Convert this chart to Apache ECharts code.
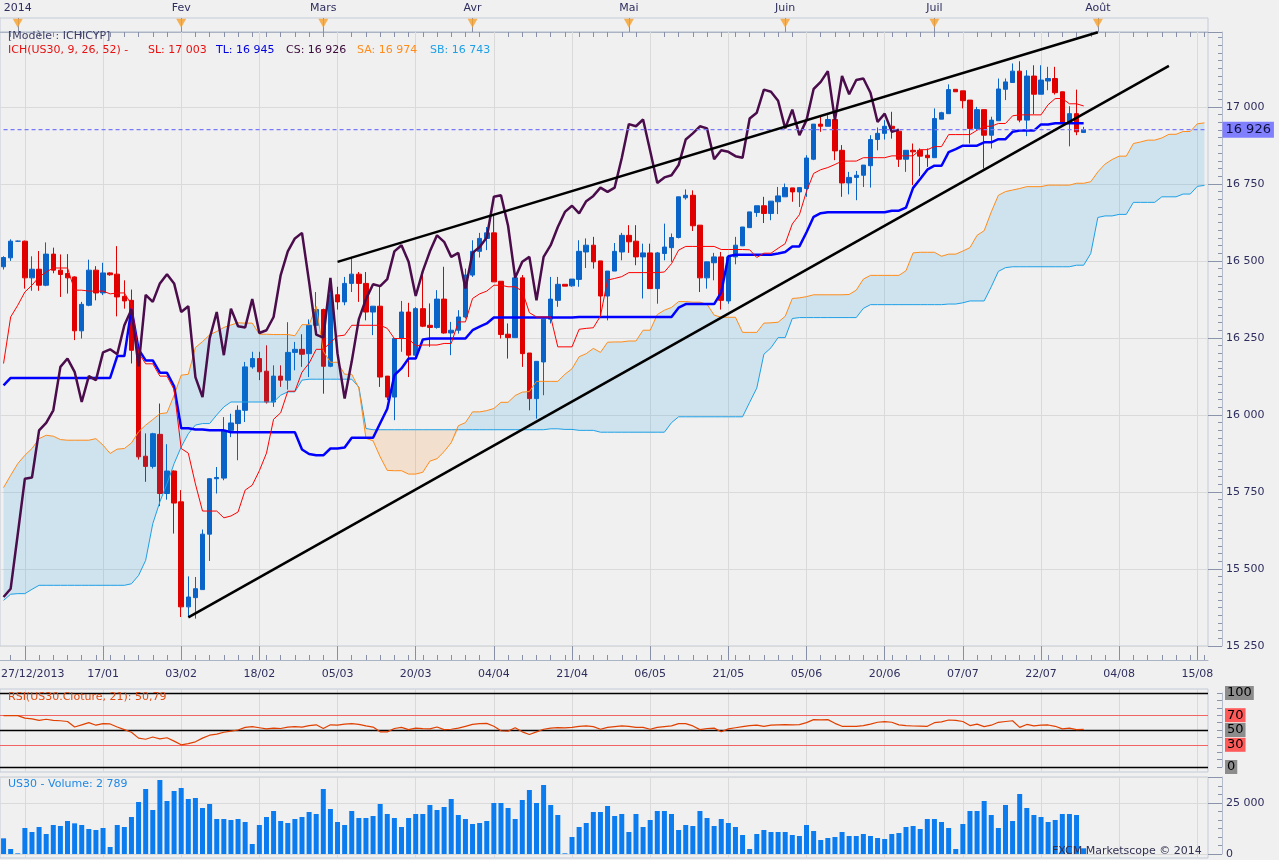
<!DOCTYPE html>
<html><head><meta charset="utf-8">
<script src="https://cdn.jsdelivr.net/npm/echarts@6/dist/echarts.min.js"></script>
<style>html,body{margin:0;padding:0;background:#f0f0f0;}#c{width:1279px;height:860px;}</style>
</head><body><div id="c"></div><script>
// ---------- categories (trading days, then calendar days ahead for the cloud) ----------
const monthDays = [
 ['12/2013',[30,31]],
 ['01/2014',[1,2,3,6,7,8,9,10,13,14,15,16,17,20,21,22,23,24,27,28,29,30,31]],
 ['02/2014',[3,4,5,6,7,10,11,12,13,14,17,18,19,20,21,24,25,26,27,28]],
 ['03/2014',[3,4,5,6,7,10,11,12,13,14,17,18,19,20,21,24,25,26,27,28,31]],
 ['04/2014',[1,2,3,4,7,8,9,10,11,14,15,16,17,18,21,22,23,24,25,28,29,30]],
 ['05/2014',[1,2,5,6,7,8,9,12,13,14,15,16,19,20,21,22,23,26,27,28,29,30]],
 ['06/2014',[2,3,4,5,6,9,10,11,12,13,16,17,18,19,20,23,24,25,26,27,30]],
 ['07/2014',[1,2,3,4,7,8,9,10,11,14,15,16,17,18,21,22,23,24,25,28,29,30,31]],
 ['08/2014',[1,2,3,4,5,6,7,8,9,10,11,12,13,14,15,16]]
];
const categories = [];
monthDays.forEach(([m, ds]) => ds.forEach(d => categories.push((d < 10 ? '0' + d : '' + d) + '/' + m)));

// ---------- tick labels ----------
const monthTickIdx = [2,25,45,66,88,110,131,154];
const monthTickLabels = ['2014','Fev','Mars','Avr','Mai','Juin','Juil','Août'];
const dateTickIdx = [3,14,25,36,47,58,69,80,91,102,113,124,135,146,157,168];
const dateTickLabels = ['27/12/2013','17/01','03/02','18/02','05/03','20/03','04/04','21/04','06/05','21/05','05/06','20/06','07/07','22/07','04/08','15/08'];

// ---------- US30 daily OHLC ----------
const opens = [
16481,16510,16564,16564,16445,16473,16421,16522,16470,16459,
16448,16273,16356,16470,16396,16461,16457,16385,16372,16210,
15866,15833,15937,15745,15818,15718,15377,15407,15433,15613,
15793,15795,15950,15972,16015,16156,16183,16142,16042,16126,
16113,16203,16213,16199,16291,16342,16158,16390,16367,16427,
16457,16427,16334,16353,16126,16058,16248,16334,16194,16345,
16291,16284,16376,16266,16275,16318,16454,16531,16573,16591,
16434,16262,16251,16445,16201,16053,16172,16311,16372,16424,
16419,16440,16529,16551,16500,16386,16467,16529,16583,16564,
16513,16526,16410,16524,16543,16576,16705,16713,16616,16445,
16494,16513,16370,16513,16549,16608,16657,16679,16654,16692,
16708,16737,16724,16735,16830,16944,16937,16959,16859,16753,
16771,16778,16809,16894,16914,16937,16921,16830,16859,16859,
16843,16835,16960,16978,17057,17052,17022,16930,16991,16908,
16955,17057,17079,17116,16957,17100,17041,17084,17092,17049,
16951,16978,16917];
const highs = [
16515,16570,16566,16566,16515,16532,16560,16543,16521,16522,
16450,16367,16504,16483,16494,16463,16548,16437,16407,16212,
15940,15942,16037,15905,15820,15756,15476,15474,15628,15795,
15831,15993,16004,16031,16172,16205,16205,16226,16161,16161,
16301,16237,16262,16310,16399,16345,16443,16416,16448,16513,
16464,16464,16353,16416,16126,16248,16370,16364,16350,16470,
16362,16405,16481,16302,16340,16475,16567,16591,16610,16648,
16434,16297,16445,16454,16201,16174,16311,16448,16448,16424,
16441,16567,16573,16578,16500,16467,16558,16591,16616,16616,
16556,16556,16529,16621,16589,16708,16732,16729,16616,16497,
16526,16529,16513,16578,16610,16659,16679,16708,16694,16740,
16751,16737,16738,16843,16944,16968,16973,16959,16876,16789,
16792,16811,16908,16933,16957,16984,16921,16859,16881,16865,
16865,16995,16984,17073,17057,17052,17022,17000,16991,16968,
17092,17092,17141,17148,17119,17135,17135,17130,17130,17049,
17002,17056,16935];
const lows = [
16472,16500,16562,16410,16403,16403,16418,16460,16383,16394,
16243,16248,16353,16372,16389,16452,16320,16345,16167,15855,
15783,15826,15704,15725,15615,15344,15346,15339,15433,15526,
15745,15788,15928,15853,15977,16150,16113,16037,16026,16091,
16082,16145,16156,16123,16264,16069,16155,16342,16356,16399,
16367,16307,16259,16091,16048,15983,16205,16123,16188,16285,
16221,16280,16264,16194,16264,16313,16448,16511,16535,16432,
16248,16183,16251,16156,16015,15988,16064,16297,16351,16418,
16416,16416,16477,16475,16324,16307,16467,16502,16526,16486,
16378,16410,16361,16502,16497,16573,16699,16597,16399,16410,
16437,16342,16361,16489,16548,16608,16643,16623,16632,16652,
16708,16692,16675,16708,16827,16919,16937,16827,16708,16716,
16697,16740,16738,16859,16894,16897,16805,16789,16746,16775,
16805,16835,16960,16978,17049,16995,16881,16924,16800,16865,
16955,17022,17079,16950,16905,16976,17041,17054,17040,16944,
16872,16908,16915];
const closes = [
16511,16564,16564,16445,16473,16421,16522,16470,16456,16445,
16273,16359,16470,16396,16461,16455,16383,16370,16210,15864,
15833,15939,15745,15818,15714,15377,15409,15436,15613,15793,
15797,15950,15974,16015,16156,16183,16140,16042,16126,16113,
16203,16213,16197,16291,16342,16158,16390,16367,16427,16457,
16427,16334,16353,16123,16058,16248,16334,16194,16345,16288,
16284,16376,16266,16275,16318,16454,16531,16573,16591,16432,
16261,16251,16445,16199,16053,16174,16311,16376,16424,16418,
16441,16531,16551,16497,16386,16467,16531,16583,16562,16513,
16526,16410,16526,16545,16576,16708,16713,16614,16445,16497,
16513,16372,16513,16551,16610,16659,16679,16654,16694,16711,
16738,16724,16738,16834,16944,16937,16959,16857,16753,16771,
16778,16811,16894,16914,16937,16930,16830,16859,16854,16840,
16835,16962,16981,17056,17049,17020,16930,16991,16908,16957,
17058,17081,17116,16957,17100,17041,17087,17092,17046,16951,
16978,16919,16926];

// ---------- Ichimoku lines ----------
const tenkan = [
16167,16318,16356,16399,16421,16448,16464,16477,16477,16477,
16405,16405,16402,16402,16402,16393,16396,16396,16358,16202,
16166,16166,16126,16126,16082,15891,15876,15776,15688,15688,
15688,15666,15672,15685,15756,15772,15819,15876,15986,16007,
16077,16077,16139,16168,16213,16213,16235,16256,16259,16291,
16291,16291,16291,16291,16281,16248,16248,16248,16224,16227,
16227,16227,16232,16232,16302,16302,16378,16393,16402,16421,
16421,16416,16416,16402,16332,16318,16318,16318,16221,16221,
16221,16278,16281,16283,16321,16438,16443,16449,16462,16462,
16462,16462,16462,16464,16491,16535,16547,16547,16547,16547,
16547,16537,16537,16537,16537,16536,16511,16525,16525,16541,
16556,16620,16650,16726,16784,16796,16803,16813,16824,16824,
16824,16835,16835,16835,16835,16841,16841,16841,16841,16861,
16861,16871,16871,16910,16910,16910,16910,16924,16937,16937,
16946,16946,16971,16974,16974,16974,16974,17007,17027,17027,
17010,17010,17003];
const kijun = [
16096,16120,16120,16120,16120,16120,16120,16120,16120,16120,
16120,16120,16120,16120,16120,16120,16191,16191,16345,16213,
16177,16177,16137,16137,16093,15957,15957,15953,15953,15950,
15950,15950,15944,15944,15944,15944,15944,15944,15944,15944,
15944,15944,15888,15873,15869,15869,15891,15891,15894,15926,
15926,15926,15926,15973,16020,16129,16151,16183,16183,16245,
16248,16248,16248,16248,16248,16248,16275,16287,16297,16316,
16316,16316,16316,16316,16316,16316,16316,16316,16316,16316,
16316,16318,16318,16318,16318,16318,16318,16318,16318,16318,
16318,16318,16318,16318,16318,16348,16360,16360,16360,16360,
16360,16398,16515,16520,16520,16520,16520,16520,16520,16524,
16529,16547,16547,16593,16643,16655,16658,16658,16658,16658,
16658,16658,16658,16658,16658,16663,16663,16673,16737,16766,
16796,16809,16809,16853,16863,16874,16874,16874,16885,16885,
16895,16895,16919,16923,16923,16923,16943,16943,16947,16947,
16947,16947,16947];
const senkouA = [
15764,15804,15842,15869,15891,15923,15934,15931,15920,15918,
15918,15918,15918,15923,15902,15875,15889,15891,15909,15945,
15967,15985,16004,16007,16064,16129,16132,16219,16238,16260,
16271,16284,16292,16299,16298,16298,16262,16262,16261,16261,
16261,16257,16293,16293,16352,16207,16171,16171,16132,16132,
16087,15924,15916,15864,15820,15819,15819,15808,15808,15814,
15850,15858,15881,15910,15965,15975,16010,16010,16014,16021,
16041,16041,16063,16074,16076,16109,16109,16109,16109,16132,
16150,16189,16199,16216,16203,16236,16237,16237,16240,16240,
16275,16275,16326,16340,16349,16368,16368,16366,16366,16359,
16324,16317,16317,16317,16268,16268,16268,16298,16299,16301,
16320,16378,16380,16384,16390,16390,16390,16390,16390,16391,
16405,16441,16453,16453,16453,16453,16453,16468,16526,16528,
16528,16528,16515,16522,16522,16532,16543,16583,16598,16659,
16713,16725,16730,16735,16741,16741,16741,16746,16746,16746,
16746,16752,16752,16757,16789,16814,16829,16840,16840,16881,
16886,16892,16892,16899,16911,16911,16920,16920,16945,16948];
const senkouB = [
15398,15418,15420,15420,15434,15447,15447,15447,15447,15447,
15447,15447,15447,15447,15447,15447,15447,15447,15452,15479,
15528,15647,15718,15777,15842,15896,15939,15967,15972,15972,
16000,16026,16042,16042,16042,16042,16042,16042,16042,16064,
16075,16075,16113,16116,16116,16116,16116,16116,16116,16116,
16091,15956,15952,15952,15952,15952,15952,15952,15952,15952,
15952,15952,15952,15952,15952,15952,15952,15952,15952,15952,
15952,15952,15952,15952,15952,15952,15952,15955,15955,15953,
15953,15950,15950,15950,15944,15944,15944,15944,15944,15944,
15944,15944,15944,15944,15975,15994,15994,15994,15994,15994,
15994,15994,15994,15994,15994,16041,16087,16197,16218,16251,
16251,16313,16316,16316,16316,16316,16316,16316,16316,16316,
16316,16346,16358,16358,16358,16358,16358,16358,16358,16358,
16358,16358,16358,16360,16360,16364,16370,16370,16370,16416,
16466,16478,16481,16481,16481,16481,16481,16481,16481,16481,
16481,16486,16486,16524,16641,16646,16646,16651,16651,16690,
16690,16690,16690,16708,16708,16708,16717,16717,16742,16745];
const chikouShift = 26; // Chikou span = close plotted 26 bars back

// ---------- trend lines [category index, price] ----------
const trendUpper = [[47,16497],[154,17242]];
const trendLower = [[26,15343],[164,17133]];
const lastPrice = 16926;

// ---------- RSI(21) ----------
const rsi = [
69.4,69.4,69.5,66,65,63,64.5,63,62.5,61.5,
54,57,60,56.5,58.5,58.2,54,50.5,47,39,
37.5,40.5,38,39.5,35,30,31.5,34,39,43,
44.5,47,48.5,50,53.5,54.5,53,51.5,52.5,52,
54,54.5,54,56,57,52,57,56.5,58,58.5,
57.7,55.5,54,47.5,47.5,52,53.5,50.5,52.5,51.8,
51.5,54,50.5,51,52.5,55,57.5,58.5,59,55,
49,48.5,53,47.5,44,47.5,51,52.5,53.2,53,
53.5,55,55.5,54.5,51,53.5,54.5,55.5,55,53.5,
53.5,51,53.5,54.5,55.5,58.6,58.6,55.5,50.5,52,
52.5,47.7,51.5,53,54.5,55.9,56.5,55,56.5,57,
57.2,56.8,57.2,60,64,63.8,64,59,55,55,
55,56,58,60.5,61.3,60.5,57,56,55.4,55.2,
55,59.9,61,63.5,63,61.5,56,58,54.5,56.5,
60.4,61.5,62.5,53.6,57.5,55.5,56.5,56.8,55,51.5,
52.5,50.5,50.79];
const rsiLevels = [100,70,50,30,0];

// ---------- Volume ----------
const volume = [
7680,2450,330,12750,10780,13240,9800,14220,13730,16180,
15030,14220,12250,11760,12750,3430,14220,13240,18140,25490,
31860,21570,36280,25980,30880,32350,26960,27450,22550,24510,
17160,17160,16670,17160,15690,4900,14220,18140,21080,16180,
15200,17160,18140,20590,19610,31860,22060,15690,14220,21080,
17650,17650,18630,24510,19610,17650,13240,17650,19610,19610,
24020,21570,23040,26960,19120,17160,14710,15200,16180,25000,
25000,22550,17160,26470,31370,25000,33820,24020,19120,330,
8330,13240,15200,20590,20590,23530,18630,19610,10780,19610,
13240,16670,21080,21080,19610,11760,14220,13730,21080,17650,
13730,17160,15200,13240,9310,2450,9800,11760,10780,10780,
10780,9310,8820,14220,11270,6860,7840,8330,10780,8820,
8820,9800,8820,7840,7350,9800,10290,13240,13730,12250,
17160,17160,15690,12750,2450,14710,21080,21080,25980,19120,
12750,24020,16180,29410,22550,19120,18140,15690,16670,19610,
19610,19120,2789];

// ================= build =================
const N = categories.length;
const W = 1208;
const FONT = 'DejaVu Sans';
const AXC = '#2e2e5e';
const UP = '#0a64c8', DN = '#e00000';
const sp = v => String(Math.round(v)).replace(/\B(?=(\d{3})+(?!\d))/g, ' ');
const nulls = categories.map(() => null);
const candle = opens.map((o, i) => [o, closes[i], lows[i], highs[i]]);
const chikou = closes.slice(chikouShift);
const cloudBase = senkouA.map((a, i) => Math.min(a, senkouB[i]));
const cloudUp = senkouA.map((a, i) => a >= senkouB[i] ? a - senkouB[i] : 0);
const cloudDn = senkouA.map((a, i) => senkouB[i] > a ? senkouB[i] - a : 0);
const priceLine = categories.map(() => lastPrice);
function trendData(seg){ const a = categories.map(() => null); a[seg[0][0]] = seg[0][1]; a[seg[1][0]] = seg[1][1]; return a; }
function vlines(idx, color){
  return {silent:true, symbol:'none', z:1, label:{show:false}, emphasis:{disabled:true},
    lineStyle:{color:color, type:'solid', width:1}, data: idx.map(i => ({xAxis:i}))};
}
function hidX(g){ return {type:'category', gridIndex:g, data:categories, axisLine:{show:false}, axisTick:{show:false}, axisLabel:{show:false}, splitLine:{show:false}}; }
function hidY(g){ return {type:'value', gridIndex:g, min:0, max:1, show:false}; }
const gridBase = {left:0, width:W, outerBoundsMode:'none', containLabel:false};
const BORDER = '#c3cbd8';

const option = {
  animation:false,
  backgroundColor:'#f0f0f0',
  textStyle:{fontFamily:FONT},
  title:[
    {text:'[Modèle : ICHICYP]', left:8, top:31, padding:0, textStyle:{fontSize:11, fontWeight:'normal', color:'#3c3c64', fontFamily:FONT}},
    {text:'ICH(US30, 9, 26, 52) -', left:8, top:45, padding:0, textStyle:{fontSize:11, fontWeight:'normal', color:'#e81010', fontFamily:FONT}},
    {text:'SL: 17 003', left:148, top:45, padding:0, textStyle:{fontSize:11, fontWeight:'normal', color:'#e81010', fontFamily:FONT}},
    {text:'TL: 16 945', left:216, top:45, padding:0, textStyle:{fontSize:11, fontWeight:'normal', color:'#0000e0', fontFamily:FONT}},
    {text:'CS: 16 926', left:286, top:45, padding:0, textStyle:{fontSize:11, fontWeight:'normal', color:'#3a0a3a', fontFamily:FONT}},
    {text:'SA: 16 974', left:357, top:45, padding:0, textStyle:{fontSize:11, fontWeight:'normal', color:'#ff8c1a', fontFamily:FONT}},
    {text:'SB: 16 743', left:430, top:45, padding:0, textStyle:{fontSize:11, fontWeight:'normal', color:'#1ea0e6', fontFamily:FONT}},
    {text:'27/12/2013', left:1, top:669, padding:0, textStyle:{fontSize:11, fontWeight:'normal', color:AXC, fontFamily:FONT}},
    {text:'RSI(US30.Cloture, 21): 50,79', left:8, top:692, padding:0, textStyle:{fontSize:11, fontWeight:'normal', color:'#e04a10', fontFamily:FONT}},
    {text:'US30 - Volume: 2 789', left:8, top:779, padding:0, textStyle:{fontSize:11, fontWeight:'normal', color:'#1e88e5', fontFamily:FONT}},
    {text:'FXCM Marketscope © 2014', left:1052, top:846, padding:0, textStyle:{fontSize:11, fontWeight:'normal', color:'#303050', fontFamily:FONT}}
  ],
  grid:[
    Object.assign({}, gridBase, {top:18, height:14, show:true, borderColor:BORDER, borderWidth:1}),
    Object.assign({}, gridBase, {top:32, height:614, show:true, borderColor:BORDER, borderWidth:1}),
    Object.assign({}, gridBase, {top:646, height:14}),
    Object.assign({}, gridBase, {top:689, height:83, show:true, borderColor:BORDER, borderWidth:1}),
    Object.assign({}, gridBase, {top:693, height:74}),
    Object.assign({}, gridBase, {top:777, height:81, show:true, borderColor:BORDER, borderWidth:1}),
    Object.assign({}, gridBase, {top:777, height:77})
  ],
  xAxis:[
    {type:'category', gridIndex:0, data:categories, position:'top',
      axisLine:{show:true, lineStyle:{color:'#aab4c4'}},
      axisTick:{show:true, inside:true, length:5, alignWithLabel:true, interval:(i)=>i%2===1, lineStyle:{color:'#8890a8'}},
      axisLabel:{show:true, interval:(i)=>monthTickIdx.indexOf(i)>=0, formatter:(v,i)=>monthTickLabels[monthTickIdx.indexOf(i)], color:AXC, fontSize:11, margin:4, fontFamily:FONT},
      splitLine:{show:false}},
    hidX(1),
    {type:'category', gridIndex:2, data:categories, position:'bottom',
      axisLine:{show:true, lineStyle:{color:'#aab4c4'}},
      axisTick:{show:true, inside:true, length:5, alignWithLabel:true, interval:(i)=>i%2===1, lineStyle:{color:'#8890a8'}},
      axisLabel:{show:true, interval:(i)=>dateTickIdx.indexOf(i)>0, formatter:(v,i)=>dateTickLabels[dateTickIdx.indexOf(i)], color:AXC, fontSize:11, margin:9, fontFamily:FONT},
      splitLine:{show:false}},
    hidX(3), hidX(4), hidX(5), hidX(6)
  ],
  yAxis:[
    hidY(0),
    {type:'value', gridIndex:1, position:'right', offset:14, min:15250, max:17243, interval:250,
      axisLine:{show:true, lineStyle:{color:'#b4bccc'}},
      axisTick:{show:true, inside:true, length:14, lineStyle:{color:'#8a94aa'}},
      minorTick:{show:true, splitNumber:10, length:4, lineStyle:{color:'#8a94aa'}},
      axisLabel:{color:AXC, fontSize:11, margin:4, formatter:sp, showMaxLabel:false, fontFamily:FONT},
      splitLine:{show:true, lineStyle:{color:'#dadada', width:1}}},
    hidY(2), hidY(3),
    {type:'value', gridIndex:4, position:'right', offset:14, min:0, max:100, interval:10,
      axisLine:{show:true, lineStyle:{color:'#b4bccc'}},
      axisTick:{show:true, inside:true, length:5, lineStyle:{color:'#8a94aa'}},
      axisLabel:{show:false}, splitLine:{show:false}},
    hidY(5),
    {type:'value', gridIndex:6, position:'right', offset:14, min:0, max:37745, interval:25000,
      axisLine:{show:true, lineStyle:{color:'#b4bccc'}},
      axisTick:{show:true, inside:true, length:14, lineStyle:{color:'#8a94aa'}},
      minorTick:{show:true, splitNumber:6, length:4, lineStyle:{color:'#8a94aa'}},
      axisLabel:{color:AXC, fontSize:11, margin:4, formatter:sp, showMaxLabel:false, fontFamily:FONT},
      splitLine:{show:true, lineStyle:{color:'#dadada'}}}
  ],
  series:[
    // top strip: month markers
    {type:'line', xAxisIndex:0, yAxisIndex:0, data:nulls, silent:true, markLine:vlines(monthTickIdx, '#8890a8')},
    {type:'scatter', xAxisIndex:0, yAxisIndex:0, silent:true, z:5, symbol:'triangle', symbolRotate:180, symbolSize:[10,9],
      itemStyle:{color:'#f7a02a'}, data: monthTickIdx.map(i => [i, 0.62])},
    // main panel vertical grid
    {type:'line', xAxisIndex:1, yAxisIndex:1, data:nulls, silent:true, markLine:vlines(dateTickIdx, '#dadada')},
    // candles
    {type:'candlestick', xAxisIndex:1, yAxisIndex:1, data:candle, barWidth:5, z:2, silent:true,
      itemStyle:{color:UP, color0:DN, borderColor:UP, borderColor0:DN, borderWidth:1}},
    // last price dashed line + tag
    {type:'line', xAxisIndex:1, yAxisIndex:1, data:priceLine, symbol:'none', silent:true, z:6,
      lineStyle:{color:'#7878ff', type:[4,3], width:1.2},
      endLabel:{show:true, distance:18, formatter:sp(lastPrice), backgroundColor:'#8080ff', color:'#101040', padding:[2,3,1,3], fontSize:13, fontFamily:FONT}},
    // cloud
    {type:'line', xAxisIndex:1, yAxisIndex:1, data:cloudBase, stack:'cu', symbol:'none', silent:true, z:3, lineStyle:{opacity:0}},
    {type:'line', xAxisIndex:1, yAxisIndex:1, data:cloudUp, stack:'cu', symbol:'none', silent:true, z:3, lineStyle:{opacity:0}, areaStyle:{color:'rgba(0,150,230,0.2)'}},
    {type:'line', xAxisIndex:1, yAxisIndex:1, data:cloudBase, stack:'cd', symbol:'none', silent:true, z:3, lineStyle:{opacity:0}},
    {type:'line', xAxisIndex:1, yAxisIndex:1, data:cloudDn, stack:'cd', symbol:'none', silent:true, z:3, lineStyle:{opacity:0}, areaStyle:{color:'rgba(255,130,20,0.22)'}},
    // ichimoku lines
    {type:'line', xAxisIndex:1, yAxisIndex:1, data:senkouB, symbol:'none', silent:true, z:4, lineStyle:{color:'#1ea0e6', width:1}},
    {type:'line', xAxisIndex:1, yAxisIndex:1, data:senkouA, symbol:'none', silent:true, z:4, lineStyle:{color:'#ff8c1a', width:1}},
    {type:'line', xAxisIndex:1, yAxisIndex:1, data:kijun, symbol:'none', silent:true, z:5, lineStyle:{color:'#0000ff', width:2.5}},
    {type:'line', xAxisIndex:1, yAxisIndex:1, data:tenkan, symbol:'none', silent:true, z:5, lineStyle:{color:'#ff0000', width:1}},
    {type:'line', xAxisIndex:1, yAxisIndex:1, data:chikou, symbol:'none', silent:true, z:5, lineStyle:{color:'#4a0c4a', width:2.5}},
    // trend lines
    {type:'line', xAxisIndex:1, yAxisIndex:1, data:trendData(trendUpper), connectNulls:true, symbol:'none', silent:true, z:6, lineStyle:{color:'#000', width:2.5}},
    {type:'line', xAxisIndex:1, yAxisIndex:1, data:trendData(trendLower), connectNulls:true, symbol:'none', silent:true, z:6, lineStyle:{color:'#000', width:2.5}},
    // date strip long ticks
    {type:'line', xAxisIndex:2, yAxisIndex:2, data:nulls, silent:true, markLine:vlines(dateTickIdx, '#8890a8')},
    // RSI panel
    {type:'line', xAxisIndex:3, yAxisIndex:3, data:nulls, silent:true, markLine:vlines(dateTickIdx, '#dadada')},
    {type:'line', xAxisIndex:4, yAxisIndex:4, data:rsi, symbol:'none', silent:true, z:5, lineStyle:{color:'#e04000', width:1.2},
      markLine:{silent:true, symbol:'none', z:4, emphasis:{disabled:true},
        label:{show:true, position:'end', distance:17, color:'#000', fontSize:13, padding:[1,2,0,2], fontFamily:FONT, formatter:(p)=>String(p.value)},
        data: rsiLevels.map(v => (v===70||v===30)
          ? {yAxis:v, lineStyle:{color:'#f06464', width:1, type:'solid'}, label:{backgroundColor:'#ff5a5a'}}
          : {yAxis:v, lineStyle:{color:'#000000', width:1.3, type:'solid'}, label:{backgroundColor:'#8c8c8c'}})}},
    // Volume panel
    {type:'line', xAxisIndex:5, yAxisIndex:5, data:nulls, silent:true, markLine:vlines(dateTickIdx, '#dadada')},
    {type:'bar', xAxisIndex:6, yAxisIndex:6, data:volume, barWidth:5, silent:true, z:3, itemStyle:{color:'#0a7cf0'}}
  ]
};
const chart = echarts.init(document.getElementById('c'), null, {renderer:'canvas'});
chart.setOption(option);
</script></body></html>
